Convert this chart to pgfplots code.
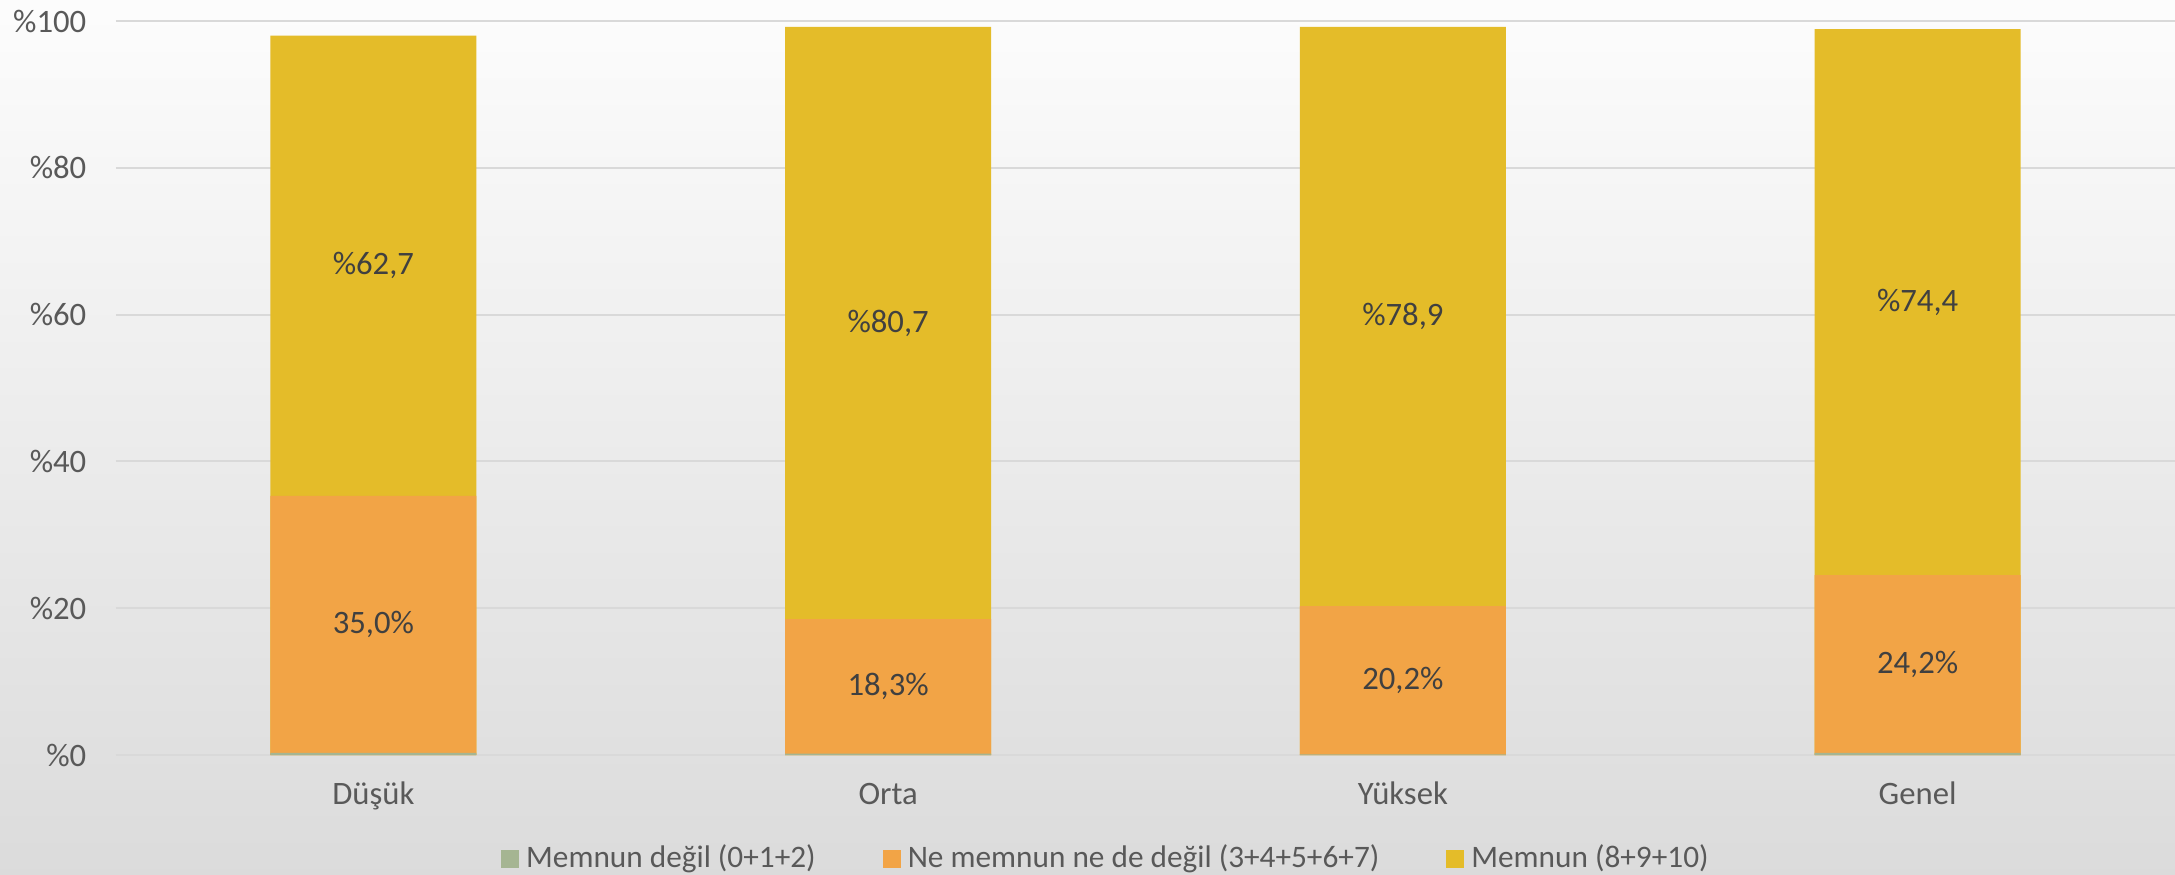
\documentclass[border=0pt]{standalone}
\usepackage{pgfplots}
\pgfplotsset{compat=1.18}
\usepackage{pgfplotstable}
\usepackage{fontspec}
\setmainfont{Carlito}
\definecolor{cg}{HTML}{A5B592}
\definecolor{co}{HTML}{F2A446}
\definecolor{cy}{HTML}{E4BC29}
\definecolor{gridc}{HTML}{D9D9D9}
\definecolor{tickc}{HTML}{595959}
\definecolor{labc}{HTML}{404040}
\pgfplotsset{
  /pgfplots/sq legend/.style={legend image code/.code={\fill[##1] (0cm,-0.09cm) rectangle (0.18cm,0.09cm);}}
}
\pgfplotstableread{
x a b c
0 0.3 35.0 62.7
1 0.2 18.3 80.7
2 0.1 20.2 78.9
3 0.3 24.2 74.4
}\data
\newcommand\fs{\fontsize{9.3}{11}\selectfont}
\newcommand\fl{\fontsize{8.9}{11}\selectfont}
\begin{document}
\begin{tikzpicture}
\shade[top color=white!99!black, bottom color=black!14] (0,0) rectangle (21.75cm,8.74cm);
\useasboundingbox (0,0) rectangle (21.75cm,8.74cm);
\begin{axis}[
  at={(1.16cm,1.19cm)}, anchor=south west,
  scale only axis, width=20.59cm, height=7.34cm,
  xmin=-0.5, xmax=3.5, ymin=0, ymax=100,
  axis line style={draw=none},
  major tick length=0pt,
  ytick={0,20,40,60,80,100},
  yticklabels={\%0,\%20,\%40,\%60,\%80,\%100},
  xtick={0,1,2,3},
  xticklabels={Düşük,Orta,Yüksek,Genel},
  ymajorgrids, grid style={draw=gridc, line width=0.55pt},
  tick label style={font=\fs, text=tickc},
  yticklabel style={anchor=east, inner sep=0pt, xshift=-0.29cm},
  xticklabel style={anchor=base, inner sep=0pt, yshift=-0.49cm},
  legend style={at={(0.482,-0.1417)}, anchor=center, draw=none, fill=none, font=\fl, text=tickc,
    /tikz/every even column/.append style={column sep=0.6cm}},
  legend columns=3,
]
\addlegendimage{sq legend, fill=cg, draw=none}
\addlegendentry{Memnun değil (0+1+2)}
\addlegendimage{sq legend, fill=co, draw=none}
\addlegendentry{Ne memnun ne de değil (3+4+5+6+7)}
\addlegendimage{sq legend, fill=cy, draw=none}
\addlegendentry{Memnun (8+9+10)}

\addplot[ybar, bar width=2.06cm, bar shift=0pt, fill=cy, draw=none, forget plot]
  table[x=x, y expr=\thisrow{a}+\thisrow{b}+\thisrow{c}] {\data};
\addplot[ybar, bar width=2.06cm, bar shift=0pt, fill=co, draw=none, forget plot]
  table[x=x, y expr=\thisrow{a}+\thisrow{b}] {\data};
\addplot[ybar, bar width=2.06cm, bar shift=0pt, fill=cg, draw=none, forget plot]
  table[x=x, y=a] {\data};

\addplot[draw=none, mark=none, forget plot, point meta=explicit,
  nodes near coords={\%\pgfmathprintnumber[fixed,fixed zerofill,precision=1,use comma,assume math mode=true]{\pgfplotspointmeta}},
  every node near coord/.style={anchor=center, font=\fs, text=labc}]
  table[x=x, y expr=\thisrow{a}+\thisrow{b}+\thisrow{c}/2, meta=c] {\data};
\addplot[draw=none, mark=none, forget plot, point meta=explicit,
  nodes near coords={\pgfmathprintnumber[fixed,fixed zerofill,precision=1,use comma,assume math mode=true]{\pgfplotspointmeta}\%},
  every node near coord/.style={anchor=center, font=\fs, text=labc}]
  table[x=x, y expr=\thisrow{a}+\thisrow{b}/2, meta=b] {\data};
\end{axis}
\end{tikzpicture}
\end{document}
